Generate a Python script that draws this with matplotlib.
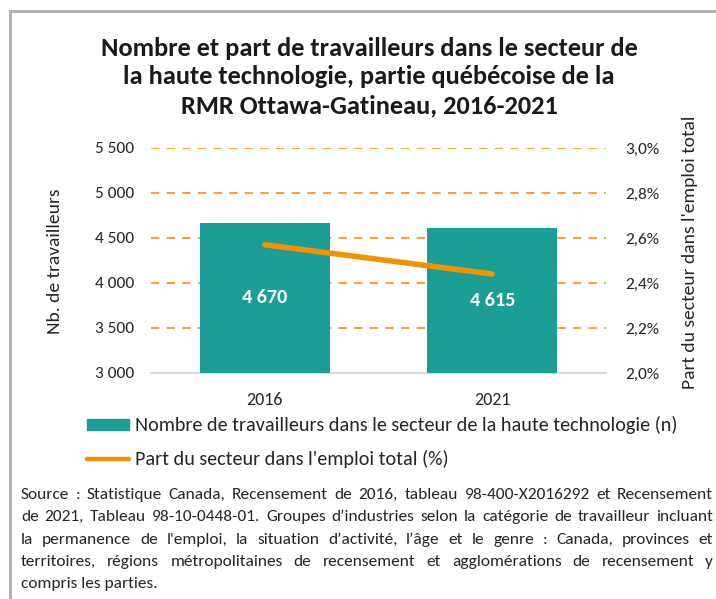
import matplotlib
matplotlib.use("Agg")
import matplotlib.pyplot as plt
from matplotlib import font_manager
from matplotlib.patches import Rectangle
from matplotlib.lines import Line2D
from matplotlib.ticker import FuncFormatter

names = {f.name for f in font_manager.fontManager.ttflist}
FONT = "Carlito" if "Carlito" in names else "Lato"
plt.rcParams['font.family'] = [FONT, 'DejaVu Sans']

# ---- data ----
years = ["2016", "2021"]
workers = [4670, 4615]
share_pct = [2.57, 2.44]
left_ticks = [3000, 3500, 4000, 4500, 5000, 5500]
right_ticks = [2.0, 2.2, 2.4, 2.6, 2.8, 3.0]
title = ("Nombre et part de travailleurs dans le secteur de\n"
         "la haute technologie, partie québécoise de la\n"
         "RMR Ottawa-Gatineau, 2016-2021")
legend_bar = "Nombre de travailleurs dans le secteur de la haute technologie (n)"
legend_line = "Part du secteur dans l'emploi total (%)"
ylabel_left = "Nb. de travailleurs"
ylabel_right = "Part du secteur dans l'emploi total"
source_lines = [
    "Source : Statistique Canada, Recensement de 2016, tableau 98-400-X2016292 et Recensement",
    "de 2021, Tableau 98-10-0448-01. Groupes d’industries selon la catégorie de travailleur incluant",
    "la permanence de l'emploi, la situation d’activité, l’âge et le genre : Canada, provinces et",
    "territoires, régions métropolitaines de recensement et agglomérations de recensement y",
    "compris les parties.",
]

TEAL = "#1A9E96"
ORANGE = "#F39200"
GRID = "#F5A33A"
TXT = "#262626"

W, H = 716, 599
fig = plt.figure(figsize=(W / 100, H / 100), dpi=100)

def fx(px):
    return px / W

def fy(py):
    return 1 - py / H

# frame border
fig.patches.append(Rectangle((fx(10), fy(700)), fx(800), fy(11) - fy(700),
                             transform=fig.transFigure, fill=False,
                             edgecolor="#B4B4B4", linewidth=2.2))

ax = fig.add_axes([fx(151), fy(373), fx(606) - fx(151), fy(148) - fy(373)])
x = list(range(len(years)))
ax.bar(x, workers, width=0.57, color=TEAL, zorder=3)
ax.set_xlim(-0.5, 1.5)
ax.set_ylim(3000, 5500)
ax.set_yticks(left_ticks)
ax.yaxis.set_major_formatter(FuncFormatter(lambda v, p: f"{int(v):,}".replace(",", " ")))
ax.set_xticks(x)
ax.set_xticklabels(years)
for s in ["top", "right", "left"]:
    ax.spines[s].set_visible(False)
ax.spines["bottom"].set_color("#D9D9D9")
ax.spines["bottom"].set_linewidth(1.5)
ax.tick_params(axis="y", length=0, labelsize=12.5, colors=TXT, pad=12)
ax.tick_params(axis="x", length=0, labelsize=13, colors=TXT, pad=14)
for t in left_ticks[1:]:
    ax.axhline(t, color=GRID, linestyle=(0, (4, 3.5)), linewidth=1.5, zorder=1)
for xi, v in zip(x, workers):
    ax.text(xi, (3000 + v) / 2, f"{v:,}".replace(",", " "), ha="center", va="center",
            color="white", fontsize=14.5, fontweight="bold", zorder=5)

ax2 = ax.twinx()
ax2.plot(x, share_pct, color=ORANGE, linewidth=4, solid_capstyle="round", zorder=4)
ax2.set_ylim(2.0, 3.0)
ax2.set_yticks(right_ticks)
ax2.yaxis.set_major_formatter(FuncFormatter(lambda v, p: f"{v:.1f}%".replace(".", ",")))
for s in ["top", "right", "left", "bottom"]:
    ax2.spines[s].set_visible(False)
ax2.tick_params(axis="y", length=0, labelsize=12.5, colors=TXT, pad=14)

fig.text(fx(369), fy(77), title, ha="center", va="center", fontsize=19,
         fontweight="bold", color="#1a1a1a", linespacing=1.3)
fig.text(fx(55), fy(261), ylabel_left, rotation=90, ha="center", va="center",
         fontsize=14, color=TXT)
fig.text(fx(690), fy(252), ylabel_right, rotation=90, ha="center", va="center",
         fontsize=14, color=TXT)

# legend
fig.patches.append(Rectangle((fx(87), fy(430)), fx(42), fy(419) - fy(430),
                             transform=fig.transFigure, color=TEAL))
fig.lines.append(Line2D([fx(87), fx(129)], [fy(459), fy(459)], transform=fig.transFigure,
                        color=ORANGE, linewidth=3.2, solid_capstyle="round"))
fig.text(fx(135), fy(425), legend_bar, ha="left", va="center", fontsize=14.5, color=TXT)
fig.text(fx(135), fy(459), legend_line, ha="left", va="center", fontsize=14.5, color=TXT)

# justified source text
renderer = fig.canvas.get_renderer()
x0, x1 = 21, 713
line_y = [495, 517, 540, 562, 584]
SFS = 12.5
for i, (line, yy) in enumerate(zip(source_lines, line_y)):
    words = line.split(" ")
    if i == len(source_lines) - 1:
        fig.text(fx(x0), fy(yy), line, ha="left", va="center", fontsize=SFS, color=TXT)
        continue
    arts = [fig.text(0, fy(yy), w, ha="left", va="center", fontsize=SFS, color=TXT) for w in words]
    widths = [a.get_window_extent(renderer).width for a in arts]
    gap = (x1 - x0 - sum(widths)) / (len(words) - 1)
    pos = x0
    for a, wd in zip(arts, widths):
        a.set_x(fx(pos))
        pos += wd + gap

fig.savefig("out.png", dpi=100)
